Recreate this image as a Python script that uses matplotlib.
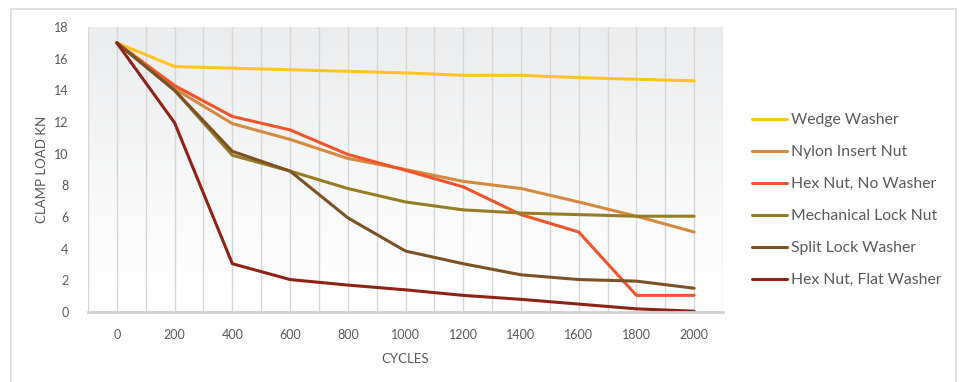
import matplotlib
matplotlib.use("Agg")
import matplotlib.pyplot as plt
import numpy as np
from matplotlib.patches import Rectangle

plt.rcParams["font.family"] = ["Lato", "DejaVu Sans"]

cycles = [0, 200, 400, 600, 800, 1000, 1200, 1400, 1600, 1800, 2000]
wedge_washer = [17, 15.5, 15.4, 15.3, 15.2, 15.1, 14.95, 14.95, 14.8, 14.7, 14.6]
nylon_insert_nut = [17, 14.1, 11.9, 10.9, 9.7, 9.0, 8.25, 7.8, 6.95, 6.05, 5.05]
hex_nut_no_washer = [17, 14.3, 12.35, 11.5, 9.95, 8.95, 7.9, 6.15, 5.05, 1.05, 1.05]
mechanical_lock_nut = [17, 14.0, 9.9, 8.9, 7.8, 6.95, 6.45, 6.25, 6.15, 6.05, 6.05]
split_lock_washer = [17, 14.0, 10.15, 8.9, 5.95, 3.85, 3.05, 2.35, 2.05, 1.95, 1.5]
hex_nut_flat_washer = [17, 11.95, 3.05, 2.05, 1.7, 1.4, 1.05, 0.8, 0.5, 0.2, 0.05]

series = [
    ("Wedge Washer", wedge_washer, "#FFC423"),
    ("Nylon Insert Nut", nylon_insert_nut, "#D58A40"),
    ("Hex Nut, No Washer", hex_nut_no_washer, "#F2552C"),
    ("Mechanical Lock Nut", mechanical_lock_nut, "#967C22"),
    ("Split Lock Washer", split_lock_washer, "#7A5226"),
    ("Hex Nut, Flat Washer", hex_nut_flat_washer, "#8E2216"),
]

W, H = 960, 382
fig = plt.figure(figsize=(W / 100, H / 100), dpi=100)
fig.patch.set_facecolor("white")

# outer chart border
fig.add_artist(Rectangle((11 / W, -0.05), (956 - 11) / W, 1 - 9 / H + 0.05,
                         transform=fig.transFigure, fill=False,
                         edgecolor="#d9d9d9", lw=1.2))

ax = fig.add_axes([88 / W, 1 - 312 / H, (723 - 88) / W, (312 - 27) / H])
x = np.arange(len(cycles))
ax.set_xlim(-0.5, len(cycles) - 0.5)
ax.set_ylim(0, 18)

# background gradient
grad = np.linspace(0, 1, 256).reshape(-1, 1)
top = np.array([1.0, 1.0, 1.0])
bot = np.array([0.92, 0.925, 0.93])
img = top + (bot - top) * grad[::-1] ** 1.2
ax.imshow(img.reshape(256, 1, 3)[::-1], extent=[-0.5, len(cycles) - 0.5, 0, 18],
          aspect="auto", zorder=0, origin="lower")

for gx in np.arange(-0.5, len(cycles), 0.5):
    ax.axvline(gx, color="#d6d6d6", lw=1, zorder=1)

for name, vals, col in series:
    ax.plot(x, vals, color=col, lw=2.2, label=name, zorder=3,
            solid_capstyle="round", solid_joinstyle="round")

for s in ["top", "right", "left"]:
    ax.spines[s].set_visible(False)
ax.spines["bottom"].set_color("#cfcfcf")
ax.spines["bottom"].set_linewidth(2)
ax.spines["bottom"].set_zorder(4)

ax.set_xticks(x)
ax.set_xticklabels([str(c) for c in cycles])
ax.set_yticks(range(0, 19, 2))
ax.tick_params(axis="both", length=0, labelsize=9, labelcolor="#595959")
ax.tick_params(axis="x", pad=12)
ax.tick_params(axis="y", pad=14)

ax.set_xlabel("CYCLES", fontsize=9.5, color="#595959", labelpad=9)
ax.set_ylabel("CLAMP LOAD KN", fontsize=9.5, color="#595959", labelpad=4)

leg = fig.legend(loc="upper left", bbox_to_anchor=(738 / W, 1 - 99 / H),
                 frameon=False, fontsize=11.3, labelcolor="#595959",
                 handlelength=2.25, handletextpad=0.2, labelspacing=1.15)
for line in leg.get_lines():
    line.set_linewidth(2.2)

fig.savefig("out.png", dpi=100)
